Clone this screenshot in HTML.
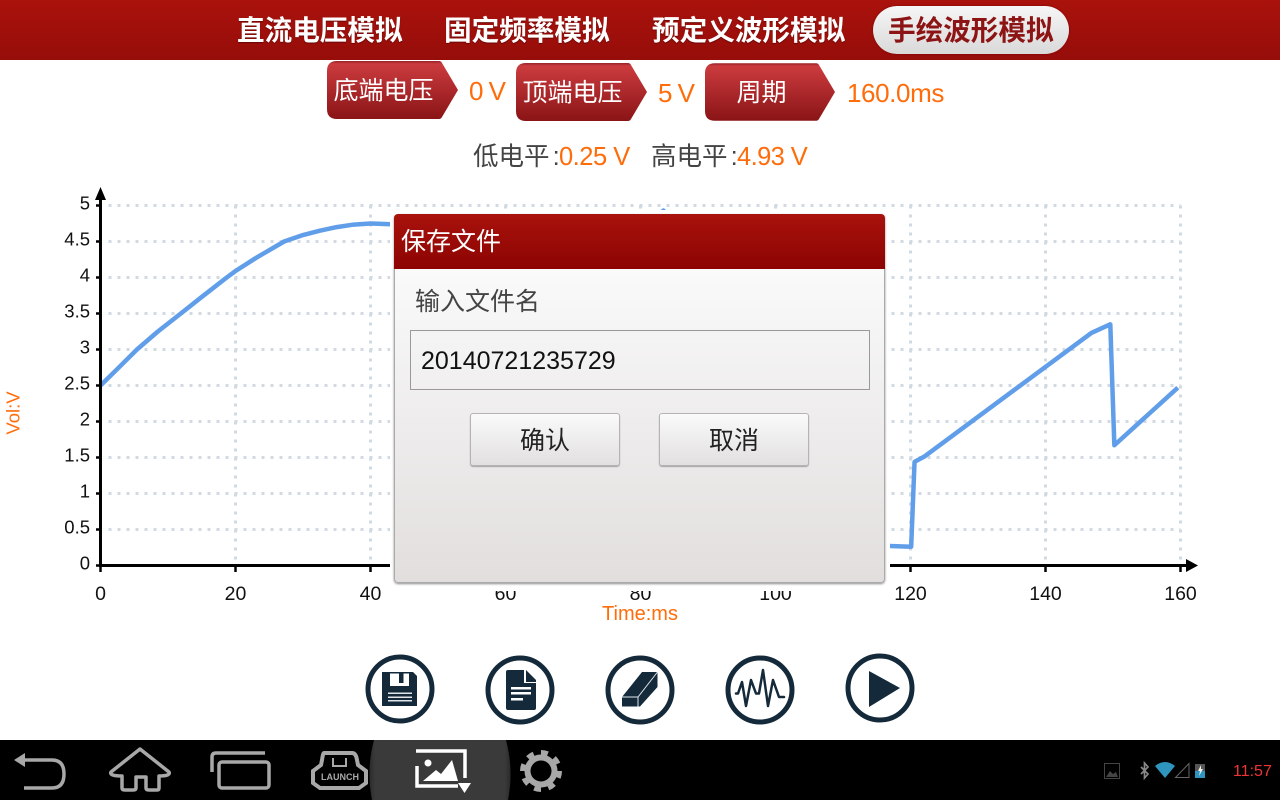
<!DOCTYPE html>
<html lang="zh">
<head>
<meta charset="utf-8">
<title>手绘波形模拟</title>
<style>
html,body{margin:0;padding:0;width:1280px;height:800px;overflow:hidden;background:#fff}
body{position:relative;font-family:"Liberation Sans","WenQuanYi Zen Hei","Noto Sans CJK SC",sans-serif}
.abs{position:absolute;white-space:nowrap}
#topbar{left:0;top:0;width:1280px;height:60px;background:linear-gradient(#aa120c,#960d0a)}
.tab{top:13px;height:36px;line-height:36px;font-size:27.6px;font-weight:bold;color:#fff;text-shadow:0 1px 1px rgba(70,0,0,.6)}
#pill{left:873px;top:6px;width:196px;height:48px;border-radius:24px;background:linear-gradient(#f6f6f6,#d9d9d9);box-shadow:0 0 2px #700}
.pilltext{left:888px;color:#8c1414;text-shadow:none}
.shape{width:131px;height:58px}
.shapetext{color:#fff;font-size:25px;height:58px;line-height:60px;text-align:center}
.orange{color:#ff6c0a;font-size:26px}
.dark{color:#444;font-size:25.5px;word-spacing:-4px}
#chart{left:0;top:180px;width:1280px;height:450px}
#halo{left:390px;top:210px;width:500px;height:381px;background:#fff}
#dialog{left:394px;top:214px;width:491px;height:369px;border-radius:4px;box-shadow:0 1px 2px rgba(0,0,0,.45)}
#dialog-head{left:0;top:0;width:491px;height:55px;background:linear-gradient(#a9120c,#8c0402);border-radius:4px 4px 0 0;color:#fff;font-size:25px;line-height:57px;text-indent:7px}
#dialog-body{left:0;top:55px;width:489px;height:313px;border:1px solid #aaa;border-top:0;border-radius:0 0 4px 4px;background:linear-gradient(#fafafa,#e2dede)}
#filename{left:410px;top:330px;width:458px;height:58px;border:1px solid #999;color:#111;font-size:25px;line-height:60px;text-indent:10px}
.btn{top:413px;width:148px;height:51px;border:1px solid #b5b3b3;border-radius:3px;background:linear-gradient(#fafafa,#e2e0e0);box-shadow:0 1px 1px rgba(0,0,0,.3);color:#222;font-size:25px;text-align:center;line-height:54px}
#navbar{left:0;top:740px;width:1280px;height:60px;background:#000;overflow:hidden}
</style>
</head>
<body>

<div id="topbar" class="abs"></div>
<div class="abs tab" style="left:237px">直流电压模拟</div>
<div class="abs tab" style="left:444px">固定频率模拟</div>
<div class="abs tab" style="left:652px">预定义波形模拟</div>
<div id="pill" class="abs"></div>
<div class="abs tab pilltext">手绘波形模拟</div>

<svg width="0" height="0" style="position:absolute">
  <defs>
    <linearGradient id="tagGrad" x1="0" y1="0" x2="0" y2="1">
      <stop offset="0" stop-color="#962225"/><stop offset=".05" stop-color="#cb3b3e"/><stop offset="1" stop-color="#8a1416"/>
    </linearGradient>
  </defs>
</svg>

<svg class="abs shape" style="left:327px;top:61px" viewBox="0 0 131 58"><path d="M10 0H112Q114 0 115 2L131 29L115 56Q114 58 112 58H10Q0 58 0 48V10Q0 0 10 0Z" fill="url(#tagGrad)"/></svg>
<div class="abs shapetext" style="left:327px;top:61px;width:113px">底端电压</div>
<div class="abs orange" style="left:469px;top:76px;letter-spacing:-1px">0 V</div>

<svg class="abs shape" style="left:516px;top:63px" viewBox="0 0 131 58"><path d="M10 0H112Q114 0 115 2L131 29L115 56Q114 58 112 58H10Q0 58 0 48V10Q0 0 10 0Z" fill="url(#tagGrad)"/></svg>
<div class="abs shapetext" style="left:516px;top:63px;width:113px">顶端电压</div>
<div class="abs orange" style="left:658px;top:78px;letter-spacing:-1px">5 V</div>

<svg class="abs shape" style="left:705px;top:63px;width:130px" viewBox="0 0 131 58"><path d="M10 0H112Q114 0 115 2L131 29L115 56Q114 58 112 58H10Q0 58 0 48V10Q0 0 10 0Z" fill="url(#tagGrad)"/></svg>
<div class="abs shapetext" style="left:705px;top:63px;width:113px">周期</div>
<div class="abs orange" style="left:847px;top:78px;letter-spacing:-.4px">160.0ms</div>

<div class="abs dark" style="left:473px;top:136px">低电平 :</div>
<div class="abs orange" style="left:559px;top:143px;font-size:25.5px;letter-spacing:-.5px">0.25 V</div>
<div class="abs dark" style="left:651px;top:136px">高电平 :</div>
<div class="abs orange" style="left:737px;top:143px;font-size:25.5px;letter-spacing:-.6px">4.93 V</div>

<svg id="chart" class="abs" viewBox="0 180 1280 450"></svg>

<div id="halo" class="abs"></div>
<div id="dialog" class="abs">
  <div id="dialog-head" class="abs">保存文件</div>
  <div id="dialog-body" class="abs"></div>
</div>
<div class="abs" style="left:415px;top:282px;font-size:25px;color:#444">输入文件名</div>
<div id="filename" class="abs">20140721235729</div>
<div class="abs btn" style="left:470px">确认</div>
<div class="abs btn" style="left:659px">取消</div>

<svg class="abs" style="left:360px;top:650px" width="560" height="80" viewBox="360 650 560 80">
  <g>
    <circle cx="400" cy="689" r="32" fill="none" stroke="#142a3a" stroke-width="5"/>
    <path d="M382 672H413L417 676V706H382Z" fill="#142a3a"/>
    <rect x="390" y="673.500" width="19" height="12.500" fill="#fff"/><rect x="399" y="673.500" width="4.500" height="9.500" fill="#142a3a"/>
    <rect x="388" y="692.500" width="24" height="1.500" fill="#dfe5e9"/><rect x="388" y="696.500" width="24" height="1.500" fill="#dfe5e9"/><rect x="388" y="700" width="24" height="1.500" fill="#dfe5e9"/>
  </g>
  <g>
    <circle cx="520" cy="690" r="32" fill="none" stroke="#142a3a" stroke-width="5"/>
    <path d="M508 670H524V683H536V708Q536 710 534 710H508Q506 710 506 708V672Q506 670 508 670Z" fill="#142a3a"/>
    <path d="M526 670L536 680V682H526Z" fill="#142a3a"/>
    <rect x="511" y="687" width="20" height="2.500" fill="#fff"/><rect x="511" y="692" width="20" height="2.500" fill="#fff"/><rect x="511" y="698" width="12" height="2.500" fill="#fff"/>
  </g>
  <g>
    <circle cx="640" cy="690" r="32" fill="none" stroke="#142a3a" stroke-width="5"/>
    <path d="M622 697L642 672H657.500V687L640 706.500H622Z" fill="#142a3a"/>
    <path d="M622 697H638L657.500 672M638 697V706.500" fill="none" stroke="#dfe5e9" stroke-width="1"/>
  </g>
  <g>
    <circle cx="760" cy="690" r="32" fill="none" stroke="#142a3a" stroke-width="5"/>
    <path d="M736 693.500H738L742 682L746 706L751 680L756 693.500H759L763 670L768 706L773 680L779 697H784" fill="none" stroke="#142a3a" stroke-width="2.500" stroke-linejoin="round" stroke-linecap="round"/>
  </g>
  <g>
    <circle cx="880" cy="688" r="32" fill="none" stroke="#142a3a" stroke-width="5"/>
    <path d="M869 671L900 688L869 707Z" fill="#142a3a"/>
  </g>
</svg>

<div id="navbar" class="abs">
<svg width="1280" height="60" viewBox="0 740 1280 60" style="display:block">
  <defs><linearGradient id="haloGrad" x1="0" y1="0" x2="1" y2="0"><stop offset="0" stop-color="#2a2a2a"/><stop offset=".04" stop-color="#3a3a3a"/><stop offset=".96" stop-color="#3a3a3a"/><stop offset="1" stop-color="#2a2a2a"/></linearGradient></defs>
  <path d="M374 740Q366 770 372 800H508Q514 770 506 740Z" fill="url(#haloGrad)"/>
  <g fill="none" stroke="#a8a8a8" stroke-width="3.500">
    <g><path d="M22 760H52Q64 760 64 774Q64 788 52 788H24"/><path d="M14 760L25 753V767Z" fill="#a8a8a8" stroke="none"/></g>
    <path d="M140 749L111 772Q109 776 122 776V788Q122 790 125 790H133Q136 790 136 788V777H146V788Q146 790 149 790H157Q159 790 159 788V776Q171 776 169 772Z" stroke-linejoin="round"/>
    <g><path d="M212 772V757Q212 753 216 753H265"/><rect x="219" y="762" width="50" height="26" rx="3"/></g>
    <g>
      <path d="M324 753H352Q356 753 357 760L358 765L366 771V783L359 788H320L313 783V771L321 765L322 760Q323 753 324 753Z" stroke-width="4"/>
      <path d="M333 758V766H346V758" stroke-width="2"/>
      <text x="340" y="780" font-family="Liberation Sans,sans-serif" font-size="9" font-weight="bold" fill="#a8a8a8" stroke="none" text-anchor="middle">LAUNCH</text>
    </g>
    <g stroke="#fff">
      <path d="M416 751H465V778"/><path d="M417 766V786H458"/>
      <circle cx="428" cy="763" r="3.500" fill="#fff" stroke="none"/>
      <path d="M423 781L436 770L441 774L452 760L458 781Z" fill="#fff" stroke="none"/>
      <path d="M458 783H471L464.500 793Z" fill="#fff" stroke="none"/>
    </g>
    <g>
      <circle cx="541" cy="771" r="13.500" stroke-width="6"/>
      <circle cx="541" cy="771" r="18.500" stroke-width="5" stroke-dasharray="7 7.500"/>
    </g>
  </g>
  <g>
    <rect x="1104.500" y="763.500" width="15" height="15" fill="none" stroke="#444"/>
    <path d="M1106 777L1110 771L1113 774L1116 772L1118 777Z" fill="#444"/>
    <path d="M1141 767L1148 774L1144.500 778V763L1148 767L1141 774" fill="none" stroke="#888" stroke-width="1.700"/>
    <path d="M1155 766Q1165 758 1175 766L1165 778Z" fill="#2f95bf"/>
    <path d="M1175.500 777.500L1189 763.500V777.500Z" fill="none" stroke="#666"/>
    <rect x="1195" y="764" width="10" height="14" fill="#555"/>
    <rect x="1195" y="771" width="10" height="7" fill="#2f95bf"/>
    <path d="M1201 765L1198 771H1200L1199 776L1203 769H1201Z" fill="#eee"/>
    <text x="1233" y="776" font-family="Liberation Sans,sans-serif" font-size="16" fill="#ee3434">11:57</text>
  </g>
</svg>
</div>

<script>
const timeMs = [0, 2.5, 5.4, 8.5, 11.9, 15, 18.7, 20, 23, 25, 27.2, 30, 32.5, 35, 37.5, 40, 43, 50, 60, 70, 78, 83.4, 90, 100, 110, 117, 120.1, 120.6, 122, 146.8, 149.6, 150.2, 159.6];
const volts = [2.5, 2.73, 3.0, 3.25, 3.5, 3.73, 4.0, 4.09, 4.27, 4.38, 4.5, 4.59, 4.65, 4.7, 4.735, 4.75, 4.74, 4.4, 3.2, 3.4, 4.5, 4.93, 4.1, 1.9, 0.5, 0.27, 0.26, 1.44, 1.51, 3.23, 3.35, 1.67, 2.47];
const xTicks = [0, 20, 40, 60, 80, 100, 120, 140, 160];
const yTicks = [0, 0.5, 1, 1.5, 2, 2.5, 3, 3.5, 4, 4.5, 5];
const xTitle = 'Time:ms';
const yTitle = 'Vol:V';

const X0 = 100.5, X1 = 1180.5, Y0 = 565.5, Y1 = 205.5, XMAX = 160, YMAX = 5;
const NS = 'http://www.w3.org/2000/svg';
const svg = document.getElementById('chart');
function xScale(t) { return X0 + (X1 - X0) * t / XMAX; }
function yScale(v) { return Y0 + (Y1 - Y0) * v / YMAX; }
function make(tag, attrs, text) {
  const el = document.createElementNS(NS, tag);
  for (const k in attrs) el.setAttribute(k, attrs[k]);
  if (text !== undefined) el.textContent = text;
  svg.appendChild(el);
  return el;
}
const LABEL = { 'font-family': 'Liberation Sans, sans-serif', fill: '#111' };

yTicks.forEach(function (v) {
  if (v === 0) return;
  const g = make('line', { x1: X0 + 8, x2: X1, y1: yScale(v), y2: yScale(v), stroke: '#d0dae2', 'stroke-width': 3, 'stroke-dasharray': '3 6' });
  
  
});
xTicks.forEach(function (t) {
  if (t === 0) return;
  const g = make('line', { x1: xScale(t), x2: xScale(t), y1: Y1, y2: Y0, stroke: '#d0dae2', 'stroke-width': 3, 'stroke-dasharray': '3 6' });
  
  
});

const series = make('polyline', {
  points: timeMs.map(function (t, i) { return xScale(t) + ',' + yScale(volts[i]); }).join(' '),
  fill: 'none', stroke: '#619ee9', 'stroke-width': 4.5, 'stroke-linejoin': 'round'
});



const xAxis = make('line', { x1: X0 - 1.5, x2: 1188, y1: Y0, y2: Y0, stroke: '#000', 'stroke-width': 3 });


const xArrow = make('path', { d: 'M1186 559L1198 565.5L1186 572Z', fill: '#000' });


const yAxis = make('line', { x1: X0, x2: X0, y1: 195, y2: Y0, stroke: '#000', 'stroke-width': 3 });


const yArrow = make('path', { d: 'M95 200L100.5 187L106 200Z', fill: '#000' });



yTicks.forEach(function (v) {
  const m = make('line', { x1: 96, x2: X0, y1: yScale(v), y2: yScale(v), stroke: '#000', 'stroke-width': 2.5 });
  
  
  const l = make('text', Object.assign({ x: 90, y: yScale(v) + 4, 'text-anchor': 'end', 'font-size': 18.5 }, LABEL), String(v));
  
  
});
xTicks.forEach(function (t) {
  const m = make('line', { x1: xScale(t), x2: xScale(t), y1: Y0, y2: 572, stroke: '#000', 'stroke-width': 2.5 });
  
  
  const l = make('text', Object.assign({ x: xScale(t), y: 600, 'text-anchor': 'middle', 'font-size': 19.5 }, LABEL), String(t));
  
  
});
const xt = make('text', { x: 640, y: 620, 'text-anchor': 'middle', 'font-family': 'Liberation Sans, sans-serif', 'font-size': 20, fill: '#ff6c0a' }, xTitle);


const yt = make('text', { transform: 'translate(19.5 413) rotate(-90)', 'text-anchor': 'middle', 'font-family': 'Liberation Sans, sans-serif', 'font-size': 18.5, fill: '#ff6c0a' }, yTitle);


</script>
</body>
</html>
